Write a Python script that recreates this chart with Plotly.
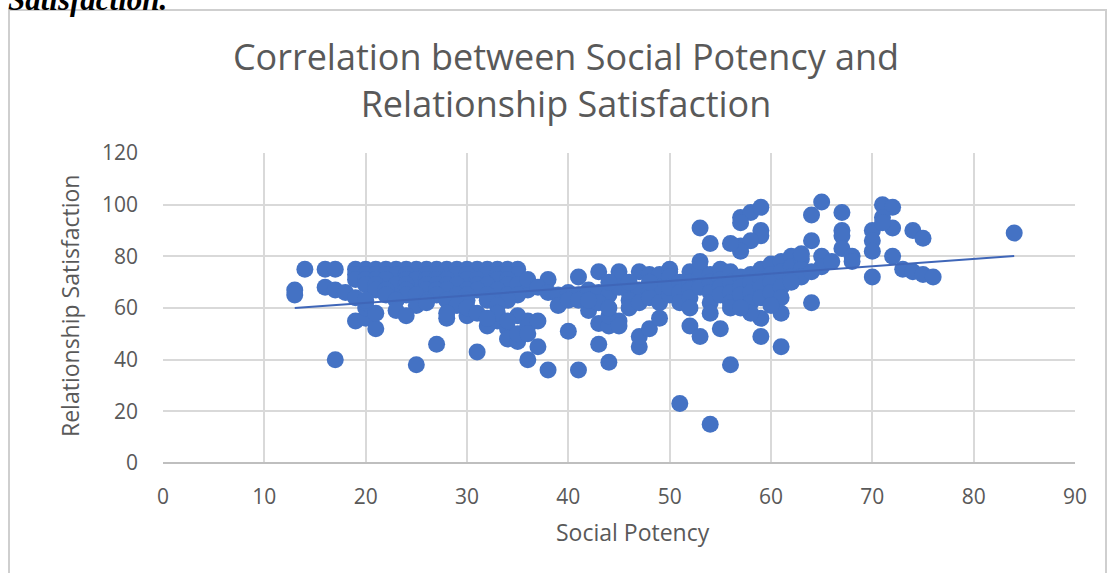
import plotly.graph_objects as go

# Social Potency (x) and Relationship Satisfaction (y) scores
social_potency = [
    13, 13, 14, 16, 17, 16, 17, 18, 19, 19, 20, 20, 21, 21, 17, 20,
    # dense band, top rows
    19, 20, 21, 22, 23, 24, 25, 26, 27, 28, 29, 30, 31, 32, 33, 34, 35,
    19, 20, 21, 22, 23, 24, 26, 27, 29, 30, 32, 33, 34, 35,
    19, 20, 21, 22, 24, 25, 26, 27, 28, 30, 31, 33, 34,
    20, 21, 23, 24, 26, 27, 28, 29, 31, 32, 34, 35,
    21, 22, 24, 26, 27, 28, 30, 31, 33, 36,
    22, 24, 25, 27, 29, 30, 32, 34, 35,
    20, 23, 26, 28, 30, 32, 34,
    25, 29, 33,
    # lower points, 19-38
    23, 24, 26, 27, 28, 28, 30, 31, 30, 32, 33, 33, 34, 34, 35, 35, 35,
    36, 36, 36, 37, 37, 38, 25, 31, 32, 34, 36,
    # 36-50
    36, 38, 41, 43, 45, 45, 47, 48, 49, 50,
    37, 38, 39, 40, 41, 42, 43, 44, 45, 46, 47, 48, 49, 50,
    39, 40, 41, 42, 43, 43, 44, 44, 45, 45, 46, 46, 47, 48, 49, 50,
    40, 43, 44, 41, 47, 47, 48, 49, 44, 46, 48, 42, 44,
    # 50-63 cluster
    50, 50, 50, 51, 51, 51, 52, 52, 52, 52, 53, 53, 53, 54, 54, 54, 54,
    55, 55, 55, 55, 56, 56, 56, 56, 57, 57, 57, 58, 58, 58, 58,
    59, 59, 59, 59, 60, 60, 60, 60, 61, 61, 61, 61, 62, 62, 62, 63, 63, 63,
    53, 54, 53, 57, 58, 59, 57, 59, 59, 57, 58, 57, 56,
    51, 54, 52, 53, 54, 55, 56, 56, 59, 59, 61, 61, 60, 58, 52, 57,
    # 63-84
    64, 65, 67, 67, 67, 64, 65, 65, 66, 67, 68, 68, 64,
    70, 70, 70, 71, 72, 71, 72, 72, 73, 74, 75, 76, 74, 75, 70, 84,
    63, 64, 62, 71,
]
relationship_satisfaction = [
    67, 65, 75, 75, 75, 68, 67, 66, 64, 55, 56, 60, 52, 58, 40, 62,
    75, 75, 75, 75, 75, 75, 75, 75, 75, 75, 75, 75, 75, 75, 75, 75, 75,
    73, 73, 73, 73, 73, 73, 73, 73, 73, 73, 73, 73, 73, 73,
    71, 71, 71, 71, 71, 71, 71, 71, 71, 71, 71, 71, 71,
    69, 69, 69, 69, 69, 69, 69, 69, 69, 69, 69, 69,
    67, 67, 67, 67, 67, 67, 67, 67, 67, 67,
    65, 65, 65, 65, 65, 65, 65, 65, 65,
    63, 63, 63, 63, 63, 63, 63,
    61, 61, 61,
    59, 57, 62, 46, 56, 58, 57, 43, 60, 53, 55, 58, 52, 48, 47, 50, 57,
    40, 55, 53, 45, 55, 36, 38, 58, 56, 55, 50,
    71, 71, 72, 74, 74, 72, 74, 73, 73, 74,
    68, 66, 65, 66, 65, 67, 66, 65, 68, 66, 67, 66, 68, 70,
    61, 63, 63, 59, 62, 54, 53, 57, 55, 53, 63, 60, 62, 64, 62, 65,
    51, 46, 39, 36, 45, 49, 52, 56, 60, 70, 70, 63, 70,
    75, 72, 68, 70, 66, 62, 74, 70, 67, 64, 72, 68, 75, 73, 70, 66, 62,
    75, 71, 68, 65, 74, 70, 66, 62, 72, 68, 65, 73, 70, 66, 62,
    75, 71, 68, 64, 77, 73, 70, 66, 78, 74, 68, 64, 80, 76, 72, 79, 75, 81,
    91, 85, 78, 95, 97, 99, 93, 90, 88, 84, 86, 82, 85,
    23, 15, 53, 49, 58, 52, 60, 38, 49, 56, 45, 58, 61, 58, 60, 60,
    96, 101, 97, 90, 88, 86, 80, 76, 78, 83, 80, 78, 62,
    90, 86, 82, 100, 99, 95, 91, 80, 75, 74, 73, 72, 90, 87, 72, 89,
    72, 74, 70, 93,
]

# Linear trendline end points
trend_x = [13, 84]
trend_y = [60.0, 80.1]

x_ticks = [0, 10, 20, 30, 40, 50, 60, 70, 80, 90]
y_ticks = [0, 20, 40, 60, 80, 100, 120]

W, H = 1109, 573
ML, MR, MT, MB = 163, 34, 153, 110
PW, PH = W - ML - MR, H - MT - MB


def px_x(px):
    return (px - ML) / PW


def px_y(py):
    return (H - MB - py) / PH


BLUE = "#4472C4"
GREY_TEXT = "#595959"

fig = go.Figure()
fig.add_trace(go.Scatter(
    x=social_potency, y=relationship_satisfaction, mode="markers",
    marker=dict(size=17, color=BLUE, line=dict(width=0)),
    showlegend=False, hoverinfo="x+y",
))
fig.add_trace(go.Scatter(
    x=trend_x, y=trend_y, mode="lines",
    line=dict(color="#3F66B8", width=2),
    showlegend=False, hoverinfo="skip",
))

axis_common = dict(
    showgrid=True, gridcolor="#d9d9d9", gridwidth=1.5,
    zeroline=False, ticks="", showline=False,
    tickfont=dict(family="Open Sans", size=21, color=GREY_TEXT),
)
fig.update_xaxes(range=[0, 90], tickvals=x_ticks, ticklabelstandoff=19,
                 **axis_common)
fig.update_yaxes(range=[0, 120], tickvals=y_ticks, ticklabelstandoff=24,
                 **axis_common)

fig.update_layout(
    width=W, height=H, autosize=False,
    margin=dict(l=ML, r=MR, t=MT, b=MB, pad=0),
    paper_bgcolor="white", plot_bgcolor="white",
    title=dict(
        text="Correlation between Social Potency and<br>Relationship Satisfaction",
        xref="container", yref="container",
        x=566 / W, xanchor="center", y=1 - 70 / H, yanchor="middle",
        font=dict(family="Open Sans", size=36, color=GREY_TEXT),
    ),
    shapes=[
        # outer chart frame
        dict(type="rect", xref="paper", yref="paper",
             x0=px_x(9), x1=px_x(1106), y0=px_y(620), y1=px_y(10),
             line=dict(color="#cfcfcf", width=2), layer="below"),
        # bottom axis line
        dict(type="line", xref="paper", yref="paper",
             x0=0, x1=1, y0=0, y1=0, line=dict(color="#bfbfbf", width=2)),
    ],
    annotations=[
        dict(text="Social Potency", xref="paper", yref="paper",
             x=px_x(633), y=px_y(532), xanchor="center", yanchor="middle",
             showarrow=False,
             font=dict(family="Open Sans", size=23, color=GREY_TEXT)),
        dict(text="Relationship Satisfaction", xref="paper", yref="paper",
             x=px_x(70), y=px_y(306), xanchor="center", yanchor="middle",
             textangle=-90, showarrow=False,
             font=dict(family="Open Sans", size=23, color=GREY_TEXT)),
        dict(text="<b><i>Satisfaction.</i></b>", xref="paper", yref="paper",
             x=px_x(6), y=px_y(19), xanchor="left", yanchor="bottom",
             showarrow=False,
             font=dict(family="Liberation Serif", size=31, color="black")),
    ],
)

fig.write_html("out.html")
